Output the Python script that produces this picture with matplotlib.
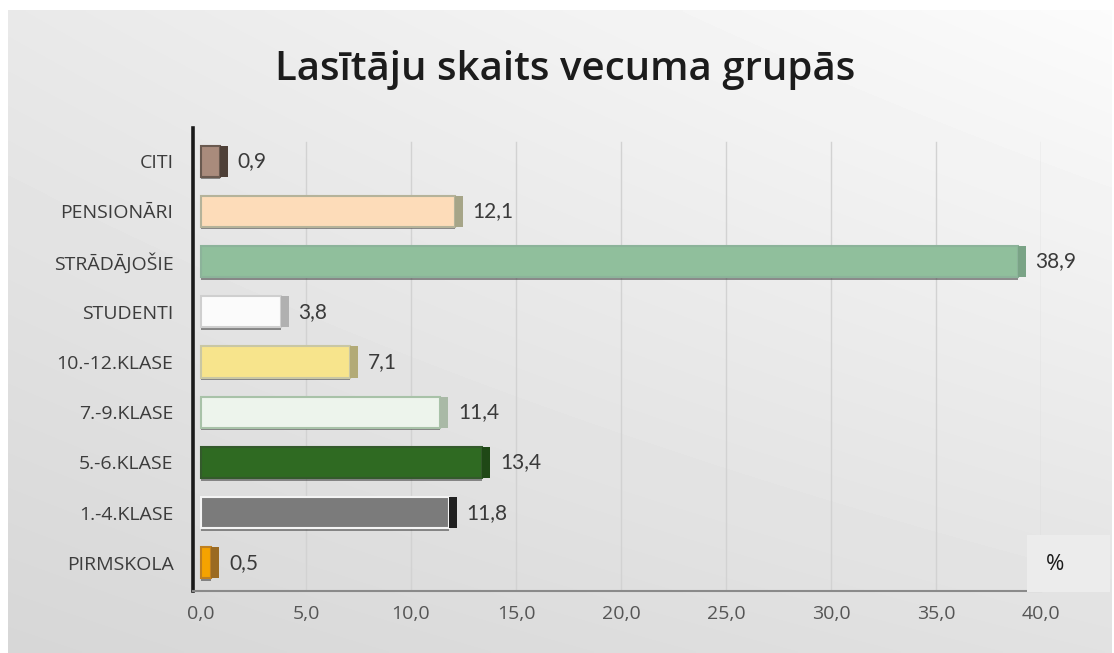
import numpy as np
import matplotlib
matplotlib.use("Agg")
import matplotlib.pyplot as plt
from matplotlib.patches import Rectangle

# ---- data ----
categories = ["PIRMSKOLA", "1.-4.KLASE", "5.-6.KLASE", "7.-9.KLASE", "10.-12.KLASE",
              "STUDENTI", "STRĀDĀJOŠIE", "PENSIONĀRI", "CITI"]
values = [0.5, 11.8, 13.4, 11.4, 7.1, 3.8, 38.9, 12.1, 0.9]
value_labels = ["0,5", "11,8", "13,4", "11,4", "7,1", "3,8", "38,9", "12,1", "0,9"]
xticks = [0, 5, 10, 15, 20, 25, 30, 35, 40]
xtick_labels = ["0,0", "5,0", "10,0", "15,0", "20,0", "25,0", "30,0", "35,0", "40,0"]
title = "Lasītāju skaits vecuma grupās"
unit_label = "%"

# ---- styles ----
face_colors = ["#f5a300", "#7b7b7b", "#2f6a22", "#edf4ec", "#f7e48c",
               "#fbfbfb", "#90bf9c", "#fddcb9", "#a98b7c"]
side_colors = ["#9a6a22", "#202020", "#1f4816", "#a9b9a6", "#b2aa76",
               "#b0b0b0", "#7aa386", "#a6a588", "#4e4038"]
edge_colors = ["#c08020", "#f4f4f4", "#345a2c", "#a8c2a8", "#c9c7a4",
               "#cfcfcf", "#8cb39a", "#b5b39a", "#6a5a50"]

W, H = 1114, 653
fig = plt.figure(figsize=(W / 100, H / 100), dpi=100)
fig.patch.set_facecolor("white")

# background (photo-like grey gradient panel)
bg = fig.add_axes([0, 0, 1, 1], zorder=-10)
yy, xx = np.mgrid[0:1:200j, 0:1:300j]
grad = 0.955 - 0.07 * (1 - xx) * 0.6 - 0.09 * yy * 0.8 + 0.03 * xx * (1 - yy)
bg.imshow(grad, cmap="gray", vmin=0, vmax=1, extent=[8, 1112, 653, 10], aspect="auto",
          interpolation="bilinear")
bg.set_xlim(0, W)
bg.set_ylim(H, 0)
bg.axis("off")

# main axes
left_px, right_px, top_px, bottom_px = 193, 1041, 128, 591
ax = fig.add_axes([left_px / W, (H - bottom_px) / H, (right_px - left_px) / W,
                   (bottom_px - top_px) / H])
ax.set_facecolor("none")
ax.set_xlim(-0.38, 40)
ax.set_ylim(-0.56, 8.66)

y = np.arange(len(categories))
bh = 0.62
depth = 0.38

# gridlines
for t in xticks[1:]:
    ax.axvline(t, color="#d2d2d2", lw=1.0, zorder=0, ymin=0.0, ymax=0.97)

# bottom shadow, front faces, side faces
ax.barh(y - bh / 2 - 0.02, values, height=0.06, left=0, color="#3a3a3a", alpha=0.55, zorder=2)
ax.barh(y, values, height=bh, color=face_colors, edgecolor=edge_colors, linewidth=1.5, zorder=3)
ax.barh(y, [depth] * len(values), height=bh, left=values, color=side_colors,
        edgecolor="none", zorder=3)

# value labels
for yi, v, lab in zip(y, values, value_labels):
    ax.text(v + depth + 0.45, yi, lab, va="center", ha="left", fontsize=15,
            color="#3a3a3a", family="Lato")

ax.set_yticks(y)
ax.set_yticklabels(categories, fontsize=14, color="#3c3c3c", family="Open Sans")
ax.set_xticks(xticks)
ax.set_xticklabels(xtick_labels, fontsize=14, color="#555555", family="Open Sans")
ax.tick_params(axis="both", length=0)
ax.tick_params(axis="y", pad=14)
ax.tick_params(axis="x", pad=10)

for s in ["top", "right"]:
    ax.spines[s].set_visible(False)
ax.spines["left"].set_color("#1a1a1a")
ax.spines["left"].set_linewidth(2.6)
ax.spines["bottom"].set_color("#8a8a8a")
ax.spines["bottom"].set_linewidth(1.5)

# unit box
fig.patches.append(Rectangle((1027 / W, (H - 592) / H), 83 / W, 57 / H,
                             transform=fig.transFigure, facecolor="#ececec",
                             edgecolor="none", zorder=5))
fig.text(1055 / W, (H - 564) / H, unit_label, fontsize=16, color="#1a1a1a",
         ha="center", va="center", family="Open Sans", zorder=6)

# title
fig.text(565 / W, (H - 70) / H, title, fontsize=29, color="#1c1c1c",
         ha="center", va="center", family="Open Sans", fontweight="semibold")

fig.savefig("out.png", dpi=100)
